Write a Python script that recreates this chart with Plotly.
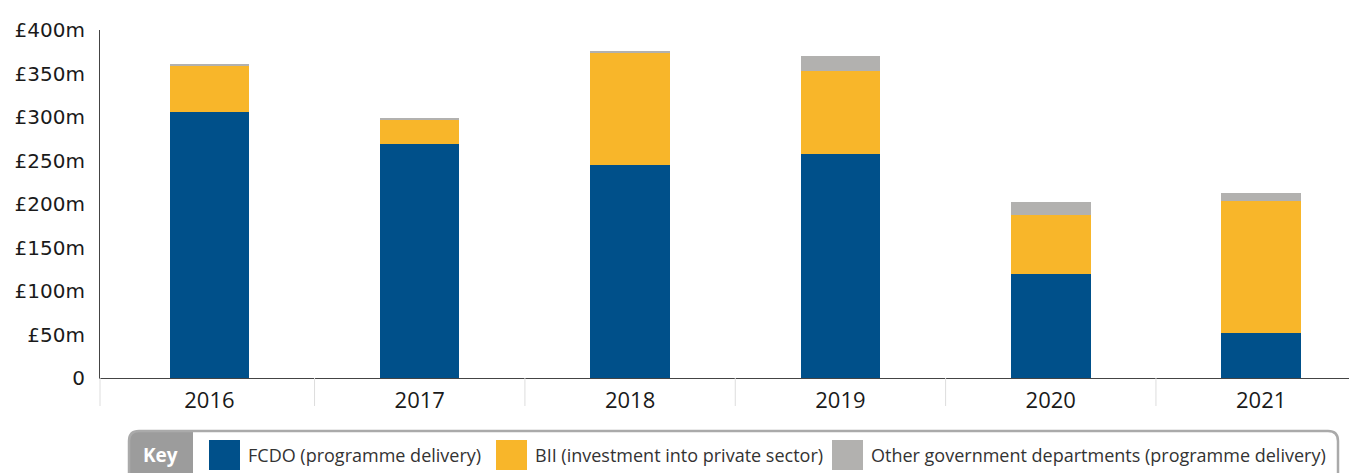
import plotly.graph_objects as go

years = ["2016", "2017", "2018", "2019", "2020", "2021"]
fcdo = [306, 269, 245, 258, 120, 52]
bii = [53.5, 28, 128, 95, 67, 152]
other = [0.8, 2, 3, 17, 15, 9]

series_names = [
    "FCDO (programme delivery)",
    "BII (investment into private sector)",
    "Other government departments (programme delivery)",
]
series_colors = ["#00508A", "#F8B62A", "#B2B1AF"]

y_tickvals = [0, 50, 100, 150, 200, 250, 300, 350, 400]
y_ticktext = ["0", "£50m", "£100m", "£150m", "£200m", "£250m", "£300m", "£350m", "£400m"]

# page body has an 8px margin: window coordinates = figure coordinates + 8
OFF = 8
W, H = 1357, 473
ML, MR, MT, MB = 92, 5, 22, 103
pw, ph = W - ML - MR, H - MT - MB


def px(xw):
    return (xw - OFF - ML) / pw


def py(yw):
    return (H - MB - (yw - OFF)) / ph


fig = go.Figure()
for name, vals, col in zip(series_names, [fcdo, bii, other], series_colors):
    fig.add_trace(go.Bar(x=years, y=vals, name=name, marker=dict(color=col, line=dict(width=0))))

fig.update_layout(
    width=W, height=H,
    margin=dict(l=ML, r=MR, t=MT, b=MB),
    barmode="stack",
    bargap=0.622,
    showlegend=False,
    plot_bgcolor="white",
    paper_bgcolor="white",
    font=dict(family="Open Sans", size=20, color="#1a1a1a"),
    xaxis=dict(
        type="category",
        range=[-0.52, 5.47],
        showline=True, linecolor="#444", linewidth=1,
        showgrid=False,
        ticks="", ticklabelstandoff=3,
        tickfont=dict(family="Open Sans", size=22, color="#1a1a1a"),
    ),
    yaxis=dict(
        range=[0, 400],
        tickvals=y_tickvals, ticktext=y_ticktext,
        showline=True, linecolor="#444", linewidth=1,
        showgrid=False, zeroline=False,
        ticks="", ticklabelstandoff=10,
        tickfont=dict(family="DejaVu Sans", size=20, color="#1a1a1a"),
    ),
)

shapes = []
# separator at the axis origin
shapes.append(dict(type="line", xref="paper", yref="paper",
                   x0=0, x1=0, y0=0, y1=-28 / ph,
                   line=dict(color="#dddddd", width=1)))
# category separators below the x axis
for i in range(1, len(years) + 1):
    shapes.append(dict(type="line", xref="x", yref="paper",
                       x0=i - 0.5, x1=i - 0.5, y0=0, y1=-28 / ph,
                       line=dict(color="#dddddd", width=1)))

# Legend ("Key") panel
x0, x1 = px(129), px(1338)
yt, yb = py(431), py(495)
rx, ry = 10 / pw, 10 / ph
kx1 = px(193)
key_path = (
    f"M {x0},{yb} L {x0},{yt - ry} Q {x0},{yt} {x0 + rx},{yt} "
    f"L {kx1},{yt} L {kx1},{yb} Z"
)
box_path = (
    f"M {x0},{yb} L {x0},{yt - ry} Q {x0},{yt} {x0 + rx},{yt} "
    f"L {x1 - rx},{yt} Q {x1},{yt} {x1},{yt - ry} L {x1},{yb}"
)
shapes.append(dict(type="path", path=key_path, xref="paper", yref="paper",
                   fillcolor="#9c9c9c", line=dict(width=0)))
shapes.append(dict(type="path", path=box_path, xref="paper", yref="paper",
                   line=dict(color="#aaaaaa", width=2.5)))

swatch_x = [209, 496, 832]
text_x = [246, 533, 869]
annotations = [dict(text="<b>Key</b>", x=px(160), y=py(455), xref="paper", yref="paper",
                    xanchor="center", yanchor="middle", showarrow=False,
                    font=dict(family="Open Sans", size=19, color="white"))]
for sx, tx, name, col in zip(swatch_x, text_x, series_names, series_colors):
    shapes.append(dict(type="rect", xref="paper", yref="paper",
                       x0=px(sx), x1=px(sx + 31), y0=py(470), y1=py(440),
                       fillcolor=col, line=dict(width=0)))
    annotations.append(dict(text=name, x=px(tx), y=py(455), xref="paper", yref="paper",
                            xanchor="left", yanchor="middle", showarrow=False,
                            font=dict(family="Open Sans", size=18, color="#333333")))

fig.update_layout(shapes=shapes, annotations=annotations)
fig.write_html("out.html")
